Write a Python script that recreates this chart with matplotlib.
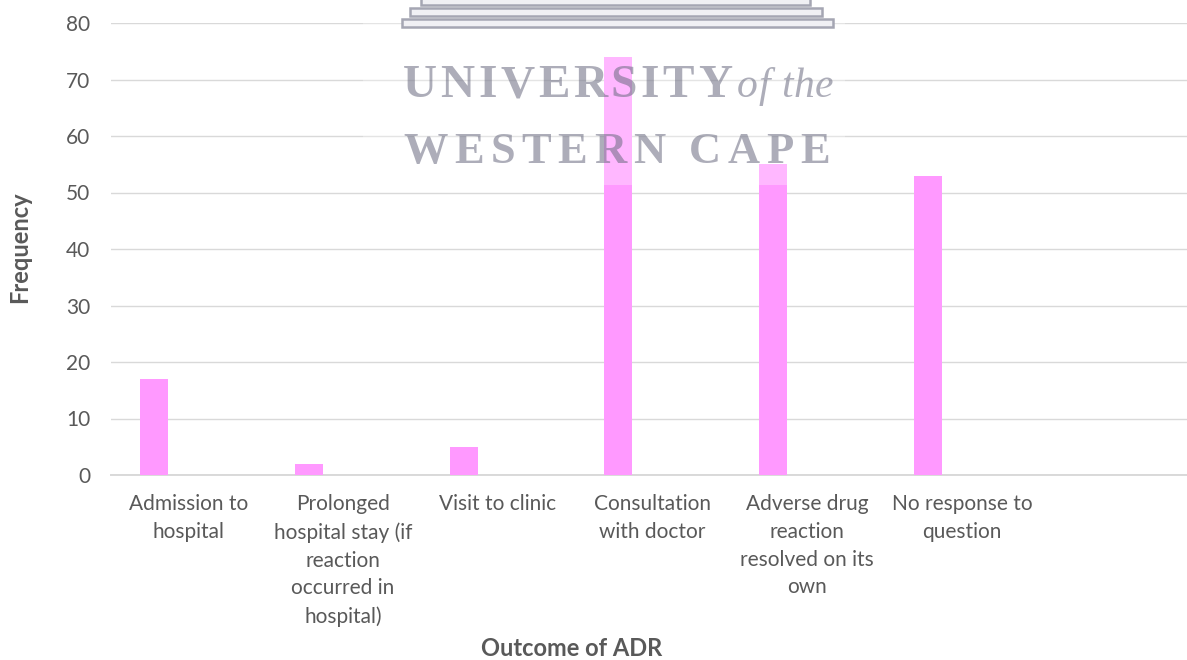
import numpy as np
import matplotlib
matplotlib.use("Agg")
import matplotlib.pyplot as plt
from matplotlib.patches import Rectangle

# Outcome of adverse drug reactions
categories = [
    "Admission to\nhospital",
    "Prolonged\nhospital stay (if\nreaction\noccurred in\nhospital)",
    "Visit to clinic",
    "Consultation\nwith doctor",
    "Adverse drug\nreaction\nresolved on its\nown",
    "No response to\nquestion",
]
frequency = [17, 2, 5, 74, 55, 53]
y_ticks = [0, 10, 20, 30, 40, 50, 60, 70, 80]

W, H = 1187, 660
BAR = "#FF99FF"
GRID = "#D9D9D9"
TXT = "#595959"
FONT = "Lato"

fig = plt.figure(figsize=(W / 100, H / 100), dpi=100)
fig.patch.set_facecolor("white")

left_px, bottom_px, top_px = 111, 475, 23
cat_px = 154.7
ax = fig.add_axes([left_px / W, 1 - bottom_px / H, 1 - left_px / W, (bottom_px - top_px) / H])

x = np.arange(len(categories))
ax.bar(x - 0.22, frequency, width=0.18, color=BAR, zorder=2)

ax.set_xlim(-0.5, -0.5 + (W - left_px) / cat_px)
ax.set_ylim(0, 80)
ax.set_yticks(y_ticks)
ax.set_xticks(x)
ax.set_xticklabels(categories, fontsize=15, color=TXT, family=FONT, linespacing=1.48)
for lab in ax.get_yticklabels():
    lab.set_fontsize(15)
    lab.set_color(TXT)
    lab.set_family(FONT)
ax.tick_params(axis="y", length=0, pad=15)
ax.tick_params(axis="x", length=0, pad=14)
ax.grid(axis="y", color=GRID, linewidth=1, zorder=0)
ax.set_axisbelow(True)
for side in ("left", "right", "top"):
    ax.spines[side].set_visible(False)
ax.spines["bottom"].set_color(GRID)
ax.spines["bottom"].set_linewidth(1.4)
ax.spines["bottom"].set_zorder(1)

fig.text(20 / W, 1 - 247 / H, "Frequency", rotation=90, ha="center", va="center",
         fontsize=17, fontweight="bold", color=TXT, family=FONT)
fig.text(572 / W, 1 - 648 / H, "Outcome of ADR", ha="center", va="center",
         fontsize=17, fontweight="bold", color=TXT, family=FONT)

# University watermark stamped over the page
def fpx(px, py):
    return px / W, 1 - py / H

wm_x0, wm_x1, wm_y0, wm_y1 = 363, 845, 0, 185
fig.patches.append(Rectangle(fpx(wm_x0, wm_y1), (wm_x1 - wm_x0) / W, (wm_y1 - wm_y0) / H,
                             transform=fig.transFigure, facecolor="white", alpha=0.3,
                             edgecolor="none", zorder=5))
for sx0, sx1, sy0, sy1 in [(421, 810, -4, 5), (410, 822, 8, 16), (402, 833, 19, 27)]:
    fig.patches.append(Rectangle(fpx(sx0, sy1), (sx1 - sx0) / W, (sy1 - sy0) / H,
                                 transform=fig.transFigure, facecolor="#F0F0F4",
                                 edgecolor="#A5A6B3", linewidth=1.8, zorder=6))

renderer = fig.canvas.get_renderer()
WM_COL = "#6A6B80"


def spaced_text(x0, x1, baseline, text, size, **kw):
    pieces = []
    widths = []
    for ch in text:
        if ch == " ":
            pieces.append(None)
            widths.append(size * 0.35)
            continue
        t = fig.text(0, 0, ch, fontsize=size, family="Liberation Serif", color=WM_COL,
                     alpha=0.55, va="baseline", ha="left", zorder=7, **kw)
        pieces.append(t)
        widths.append(t.get_window_extent(renderer).width)
    gap = (x1 - x0 - sum(widths)) / (len(text) - 1)
    cur = x0
    for t, w in zip(pieces, widths):
        if t is not None:
            t.set_position(fpx(cur, baseline))
        cur += w + gap


spaced_text(403, 732, 97, "UNIVERSITY", 34, fontweight="bold")
spaced_text(737, 833, 97, "of the", 30, style="italic")
spaced_text(403, 830, 163, "WESTERN CAPE", 32, fontweight="bold")

fig.savefig("out.png", dpi=100, facecolor="white")
